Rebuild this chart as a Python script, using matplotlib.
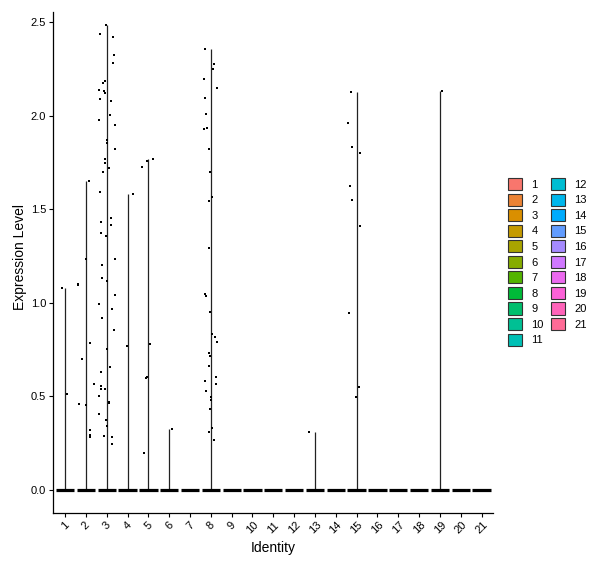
import numpy as np
import matplotlib.pyplot as plt
from matplotlib.patches import Patch

plt.rcParams['font.family'] = ['Liberation Sans', 'DejaVu Sans']

identities = [str(i) for i in range(1, 22)]

# non-zero expression values per identity (everything else sits at 0)
# jitter = horizontal offset of each point, in category units
vals_1 = [1.08, 0.513]
jit_1 = [-0.15, 0.08]
vals_2 = [1.65, 1.236, 1.10, 1.095, 0.787, 0.697, 0.564, 0.46, 0.455, 0.32, 0.292, 0.285]
jit_2 = [0.14, -0.01, -0.37, -0.39, 0.18, -0.20, 0.37, -0.35, -0.01, 0.18, 0.18, 0.18]
vals_3 = [2.485, 2.435, 2.42, 2.323, 2.28, 2.184, 2.173, 2.136, 2.13, 2.12, 2.088, 2.077,
          2.004, 1.975, 1.95, 1.868, 1.854, 1.82, 1.766, 1.747, 1.718, 1.697, 1.59, 1.452,
          1.431, 1.415, 1.37, 1.356, 1.233, 1.204, 1.13, 1.115, 1.04, 0.992, 0.964, 0.917,
          0.857, 0.755, 0.655, 0.632, 0.553, 0.537, 0.537, 0.50, 0.471, 0.462, 0.408, 0.376,
          0.344, 0.29, 0.284, 0.248]
jit_3 = [-0.03, -0.34, 0.29, 0.35, 0.30, -0.10, -0.19, -0.38, -0.14, -0.10, -0.34, 0.19,
         0.14, -0.38, 0.38, 0.03, 0.0, 0.38, -0.10, -0.10, 0.10, -0.19, -0.34, 0.19,
         -0.29, 0.19, -0.29, -0.05, 0.40, -0.24, -0.24, 0.0, 0.40, -0.38, 0.24, -0.24,
         0.34, 0.0, 0.14, -0.29, -0.29, -0.29, -0.10, -0.38, 0.10, 0.10, -0.38, -0.05,
         0.0, -0.14, 0.24, 0.24]
vals_4 = [1.58, 0.767]
jit_4 = [0.25, -0.03]
vals_5 = [1.768, 1.756, 1.725, 0.778, 0.605, 0.598, 0.20]
jit_5 = [0.21, -0.08, -0.31, 0.08, -0.08, -0.13, -0.21]
vals_6 = [0.326]
jit_6 = [0.13]
vals_8 = [2.357, 2.277, 2.25, 2.197, 2.149, 2.095, 2.01, 1.93, 1.936, 1.823, 1.70, 1.566,
          1.545, 1.293, 1.047, 1.036, 0.95, 0.833, 0.816, 0.789, 0.73, 0.714, 0.66, 0.601,
          0.58, 0.564, 0.526, 0.494, 0.483, 0.435, 0.333, 0.312, 0.269]
jit_8 = [-0.30, 0.13, 0.09, -0.35, 0.28, -0.30, -0.25, -0.35, -0.20, -0.11, -0.06, 0.04,
         -0.11, -0.11, -0.30, -0.25, -0.06, 0.04, 0.18, 0.28, -0.11, -0.06, -0.11, 0.23,
         -0.30, 0.23, -0.25, -0.01, -0.01, -0.06, 0.04, -0.11, 0.13]
vals_13 = [0.308]
jit_13 = [-0.30]
vals_15 = [2.128, 1.962, 1.834, 1.802, 1.626, 1.551, 1.412, 0.947, 0.552, 0.498]
jit_15 = [-0.28, -0.43, -0.24, 0.15, -0.33, -0.24, 0.15, -0.38, 0.10, -0.04]
vals_19 = [2.133]
jit_19 = [0.10]

expr = {1: (vals_1, jit_1), 2: (vals_2, jit_2), 3: (vals_3, jit_3), 4: (vals_4, jit_4),
        5: (vals_5, jit_5), 6: (vals_6, jit_6), 8: (vals_8, jit_8), 13: (vals_13, jit_13),
        15: (vals_15, jit_15), 19: (vals_19, jit_19)}


def hue_pal(n, l=65, c=100):
    # ggplot2 default discrete palette (polar Luv -> sRGB)
    xn, yn, zn = 95.047, 100.0, 108.883
    un = 4 * xn / (xn + 15 * yn + 3 * zn)
    vn = 9 * yn / (xn + 15 * yn + 3 * zn)
    m = np.array([[3.2404542, -1.5371385, -0.4985314],
                  [-0.9692660, 1.8760108, 0.0415560],
                  [0.0556434, -0.2040259, 1.0572252]])
    cols = []
    for i in range(n):
        h = np.deg2rad(15 + 360 * i / n)
        u, v = c * np.cos(h), c * np.sin(h)
        y = yn * ((l + 16) / 116) ** 3
        up = u / (13 * l) + un
        vp = v / (13 * l) + vn
        x = y * 9 * up / (4 * vp)
        z = y * (12 - 3 * up - 20 * vp) / (4 * vp)
        rgb = m @ (np.array([x, y, z]) / 100)
        rgb = np.where(rgb <= 0.0031308, 12.92 * rgb, 1.055 * np.clip(rgb, 0, None) ** (1 / 2.4) - 0.055)
        cols.append(tuple(np.clip(rgb, 0, 1)))
    return cols


colors = hue_pal(len(identities))

fig = plt.figure(figsize=(6.0, 5.68), dpi=100)
ax = fig.add_axes([53 / 600, 55 / 568, 440 / 600, 501 / 568])

pos = np.arange(1, len(identities) + 1)

# collapsed violins: a flat band at zero plus a thin spike up to the max
ax.hlines(np.zeros(len(pos)), pos - 0.44, pos + 0.44, color='black', linewidth=2.3,
          capstyle='butt', zorder=3)
for k, (v, j) in expr.items():
    ax.vlines(k, 0, max(v), color='#222222', linewidth=0.9, zorder=2)
    ax.scatter(k + np.array(j), v, s=2.2, marker='s', color='black', linewidths=0, zorder=4)

ax.set_xlim(0.42, 21.55)
ax.set_ylim(-0.123, 2.553)
ax.set_xticks(pos)
ax.set_xticklabels(identities, rotation=45, ha='center', va='top')
ax.set_yticks([0, 0.5, 1.0, 1.5, 2.0, 2.5])
ax.set_yticklabels(['0.0', '0.5', '1.0', '1.5', '2.0', '2.5'])
ax.tick_params(axis='both', labelsize=8, length=3, width=0.8, color='black', labelcolor='black', pad=2)
for side in ['top', 'right']:
    ax.spines[side].set_visible(False)
for side in ['left', 'bottom']:
    ax.spines[side].set_linewidth(0.9)

ax.set_xlabel('Identity', fontsize=10)
ax.set_ylabel('Expression Level', fontsize=10)
ax.xaxis.set_label_coords(0.5, -0.056)
ax.yaxis.set_label_coords(-0.059, 0.51)

handles = [Patch(facecolor=colors[i], edgecolor='#333333', linewidth=0.8, label=identities[i])
           for i in range(len(identities))]
fig.legend(handles=handles, ncol=2, frameon=False, fontsize=8,
           loc='upper left', bbox_to_anchor=(508 / 600, 1 - 178 / 568),
           handlelength=1.3, handleheight=1.3, labelspacing=0.31,
           handletextpad=0.8, columnspacing=0.65, borderpad=0, borderaxespad=0)

plt.savefig('out.png', dpi=100)
